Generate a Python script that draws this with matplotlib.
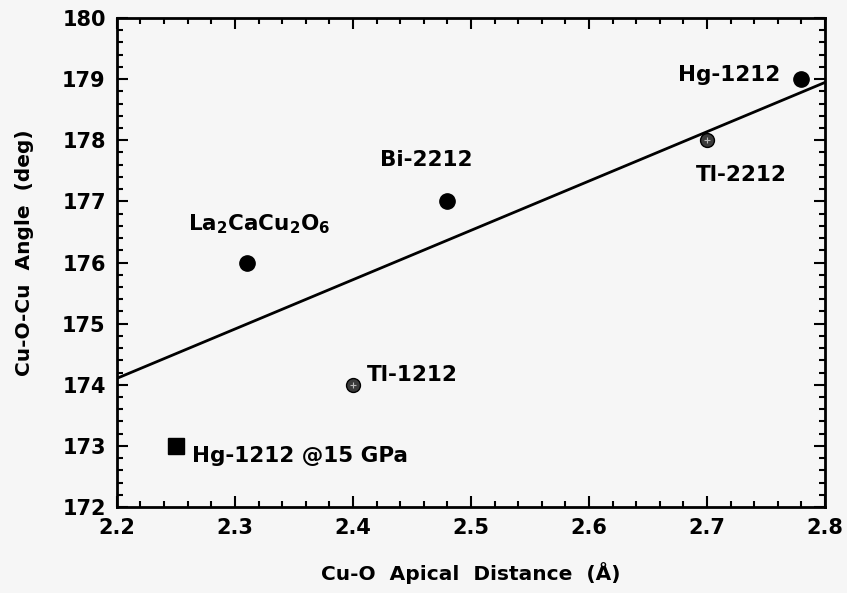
import numpy as np
import matplotlib
matplotlib.use("Agg")
import matplotlib.pyplot as plt
from matplotlib.ticker import MultipleLocator

plt.rcParams['font.family'] = ['DejaVu Sans']
plt.rcParams['font.weight'] = 'bold'
plt.rcParams['mathtext.fontset'] = 'custom'
plt.rcParams['mathtext.rm'] = 'DejaVu Sans:bold'
plt.rcParams['mathtext.bf'] = 'DejaVu Sans:bold'

# Data
names = ["La$_2$CaCu$_2$O$_6$", "Bi-2212", "Tl-1212", "Tl-2212", "Hg-1212"]
apical = [2.31, 2.48, 2.40, 2.70, 2.78]
angle = [176.0, 177.0, 174.0, 178.0, 179.0]
filled = [True, True, False, False, True]
hp_name = "Hg-1212 @15 GPa"
hp_apical = [2.25]
hp_angle = [173.0]

xticks = [2.2, 2.3, 2.4, 2.5, 2.6, 2.7, 2.8]
yticks = [172, 173, 174, 175, 176, 177, 178, 179, 180]

bg = '#f6f6f6'
fig = plt.figure(figsize=(8.47, 5.93), dpi=100, facecolor=bg)
ax = fig.add_axes([0.138, 0.145, 0.836, 0.8246], facecolor=bg)

# regression line (ambient-pressure compounds)
slope, icpt = np.polyfit(apical, angle, 1)
xl = np.array([2.2, 2.8])
ax.plot(xl, slope * xl + icpt, color='black', lw=2.0, zorder=2)

for x, y, f in zip(apical, angle, filled):
    if f:
        ax.plot(x, y, 'o', ms=11, color='black', zorder=3)
    else:
        ax.plot(x, y, 'o', ms=10, mfc='#3a3a3a', mec='black', mew=1, zorder=3)
        ax.plot(x, y, '+', ms=5, color='#bbbbbb', mew=0.8, zorder=4)
ax.plot(hp_apical, hp_angle, 's', ms=11, color='black', zorder=3)

fs = 15.5
ax.text(2.26, 176.53, names[0], fontsize=fs, ha='left', va='baseline')
ax.text(2.462, 177.68, names[1], fontsize=fs, ha='center', va='center')
ax.text(2.412, 174.16, names[2], fontsize=fs, ha='left', va='center')
ax.text(2.691, 177.43, names[3], fontsize=fs, ha='left', va='center')
ax.text(2.762, 179.07, names[4], fontsize=fs, ha='right', va='center')
ax.text(2.2635, 172.84, hp_name, fontsize=fs, ha='left', va='center')

ax.set_xlim(2.2, 2.8)
ax.set_ylim(172, 180)
ax.set_xticks(xticks)
ax.set_yticks(yticks)
ax.set_xticklabels([f"{v:.1f}" for v in xticks])
ax.set_yticklabels([str(v) for v in yticks])
ax.xaxis.set_minor_locator(MultipleLocator(0.02))
ax.yaxis.set_minor_locator(MultipleLocator(0.2))
ax.tick_params(which='both', direction='in', top=True, right=True, width=1.5, labelsize=15)
ax.tick_params(which='major', length=8, pad=8)
ax.tick_params(which='minor', length=4)
for s in ax.spines.values():
    s.set_linewidth(2)

ax.set_xlabel("Cu-O  Apical  Distance  (Å)", fontsize=14.5, fontweight='bold', labelpad=17)
ax.set_ylabel("Cu-O-Cu  Angle  (deg)", fontsize=14.5, fontweight='bold', labelpad=22)
ax.yaxis.set_label_coords(-0.117, 0.52)

fig.savefig("out.png", dpi=100, facecolor=bg)
